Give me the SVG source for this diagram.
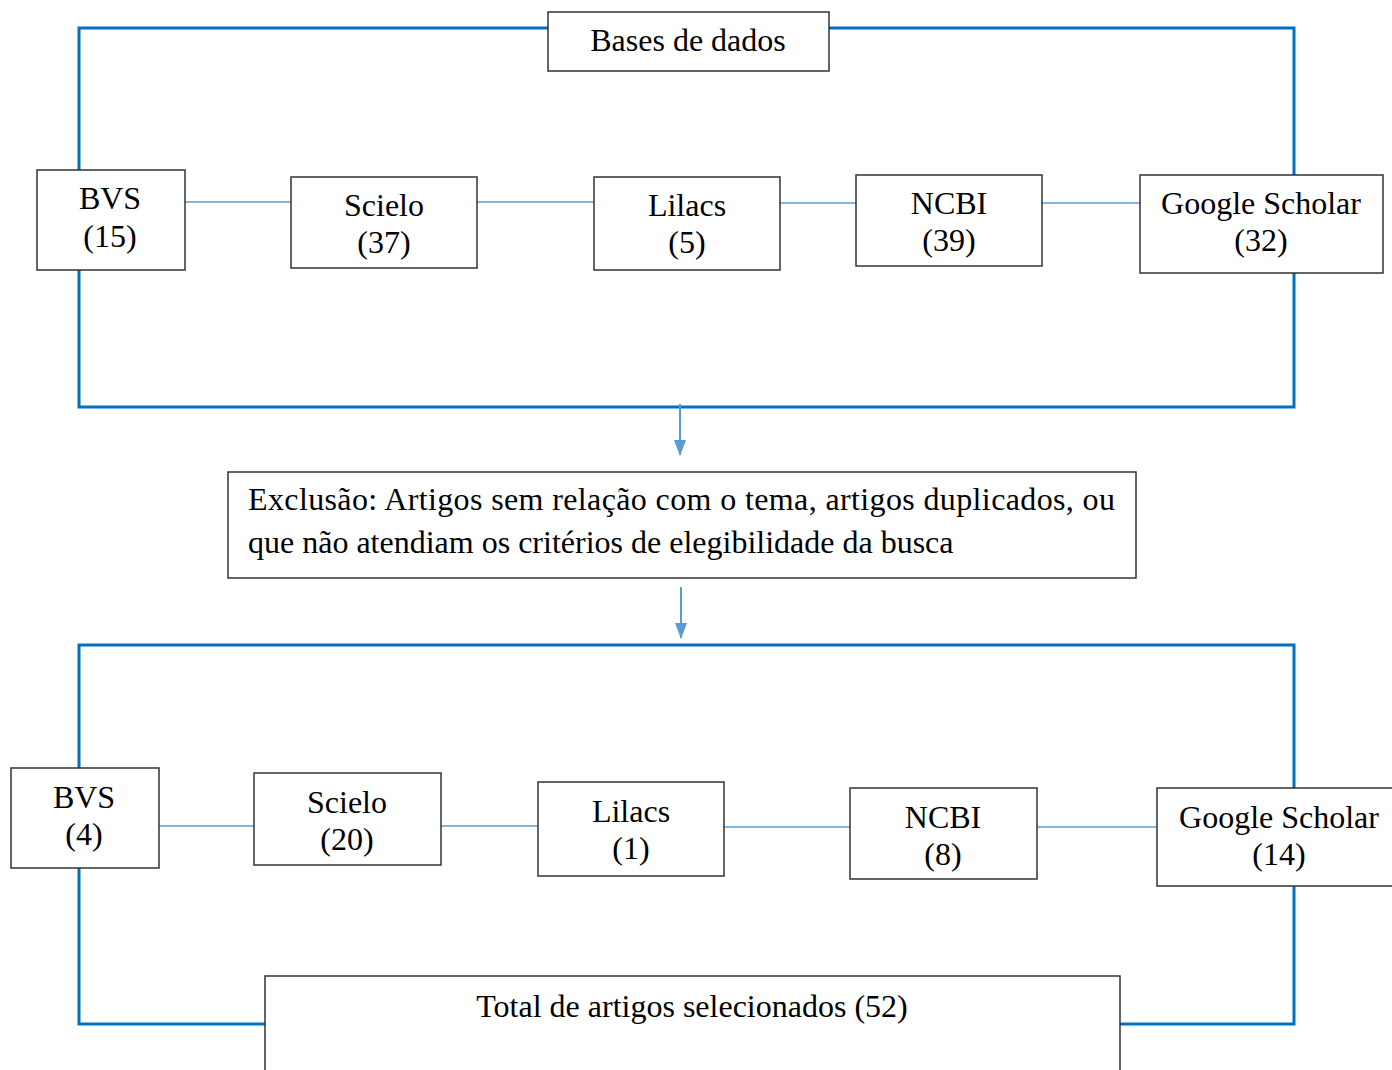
<svg xmlns="http://www.w3.org/2000/svg" width="1392" height="1070" viewBox="0 0 1392 1070">
<style>
.frame{fill:none;stroke:#0070C0;stroke-width:3}
.link{fill:none;stroke:#5B9BD5;stroke-width:1.5}
.arr{fill:none;stroke:#5B9BD5;stroke-width:2}
.box{fill:#fff;stroke:#333;stroke-width:1.5}
text{font-family:"Liberation Serif","Times New Roman",serif;font-size:32px;fill:#000}
.c{text-anchor:middle}
</style>
<defs>
<marker id="ah" viewBox="0 0 16 12" refX="15" refY="6" markerWidth="16" markerHeight="12" orient="auto" markerUnits="userSpaceOnUse">
<path d="M0,0 L16,6 L0,12 z" fill="#5B9BD5"/>
</marker>
</defs>
<g id="connectors">
<rect class="frame" x="79" y="28" width="1215" height="379"/>
<rect class="frame" x="79" y="645" width="1215" height="379"/>
<line class="link" x1="185" y1="202" x2="291" y2="202"/>
<line class="link" x1="477" y1="202" x2="594" y2="202"/>
<line class="link" x1="780" y1="203" x2="856" y2="203"/>
<line class="link" x1="1042" y1="203" x2="1140" y2="203"/>
<line class="link" x1="159" y1="826" x2="254" y2="826"/>
<line class="link" x1="441" y1="826" x2="538" y2="826"/>
<line class="link" x1="724" y1="827" x2="850" y2="827"/>
<line class="link" x1="1037" y1="827" x2="1157" y2="827"/>
<line class="arr" x1="680" y1="404" x2="680" y2="455" marker-end="url(#ah)"/>
<line class="arr" x1="681" y1="587" x2="681" y2="638" marker-end="url(#ah)"/>
</g>
<g id="bases">
<rect class="box" x="548" y="12" width="281" height="59"/>
<text class="c" x="688" y="51">Bases de dados</text>
</g>
<g id="bvs1">
<rect class="box" x="37" y="170" width="148" height="100"/>
<text class="c" x="110" y="209">BVS</text>
<text class="c" x="110" y="247">(15)</text>
</g>
<g id="scielo1">
<rect class="box" x="291" y="177" width="186" height="91"/>
<text class="c" x="384" y="216">Scielo</text>
<text class="c" x="384" y="253">(37)</text>
</g>
<g id="lilacs1">
<rect class="box" x="594" y="177" width="186" height="93"/>
<text class="c" x="687" y="216">Lilacs</text>
<text class="c" x="687" y="253">(5)</text>
</g>
<g id="ncbi1">
<rect class="box" x="856" y="175" width="186" height="91"/>
<text class="c" x="949" y="214">NCBI</text>
<text class="c" x="949" y="251">(39)</text>
</g>
<g id="gs1">
<rect class="box" x="1140" y="175" width="243" height="98"/>
<text class="c" x="1261" y="214">Google Scholar</text>
<text class="c" x="1261" y="251">(32)</text>
</g>
<g id="exclusao">
<rect class="box" x="228" y="472" width="908" height="106"/>
<text x="248" y="510" textLength="867" lengthAdjust="spacing">Exclusão: Artigos sem relação com o tema, artigos duplicados, ou</text>
<text x="248" y="553">que não atendiam os critérios de elegibilidade da busca</text>
</g>
<g id="bvs2">
<rect class="box" x="11" y="768" width="148" height="100"/>
<text class="c" x="84" y="808">BVS</text>
<text class="c" x="84" y="845">(4)</text>
</g>
<g id="scielo2">
<rect class="box" x="254" y="773" width="187" height="92"/>
<text class="c" x="347" y="813">Scielo</text>
<text class="c" x="347" y="850">(20)</text>
</g>
<g id="lilacs2">
<rect class="box" x="538" y="782" width="186" height="94"/>
<text class="c" x="631" y="822">Lilacs</text>
<text class="c" x="631" y="859">(1)</text>
</g>
<g id="ncbi2">
<rect class="box" x="850" y="788" width="187" height="91"/>
<text class="c" x="943" y="828">NCBI</text>
<text class="c" x="943" y="865">(8)</text>
</g>
<g id="gs2">
<rect class="box" x="1157" y="788" width="240" height="98"/>
<text class="c" x="1279" y="828">Google Scholar</text>
<text class="c" x="1279" y="865">(14)</text>
</g>
<g id="total">
<rect class="box" x="265" y="976" width="855" height="110"/>
<text class="c" x="692" y="1017">Total de artigos selecionados (52)</text>
</g>
</svg>
